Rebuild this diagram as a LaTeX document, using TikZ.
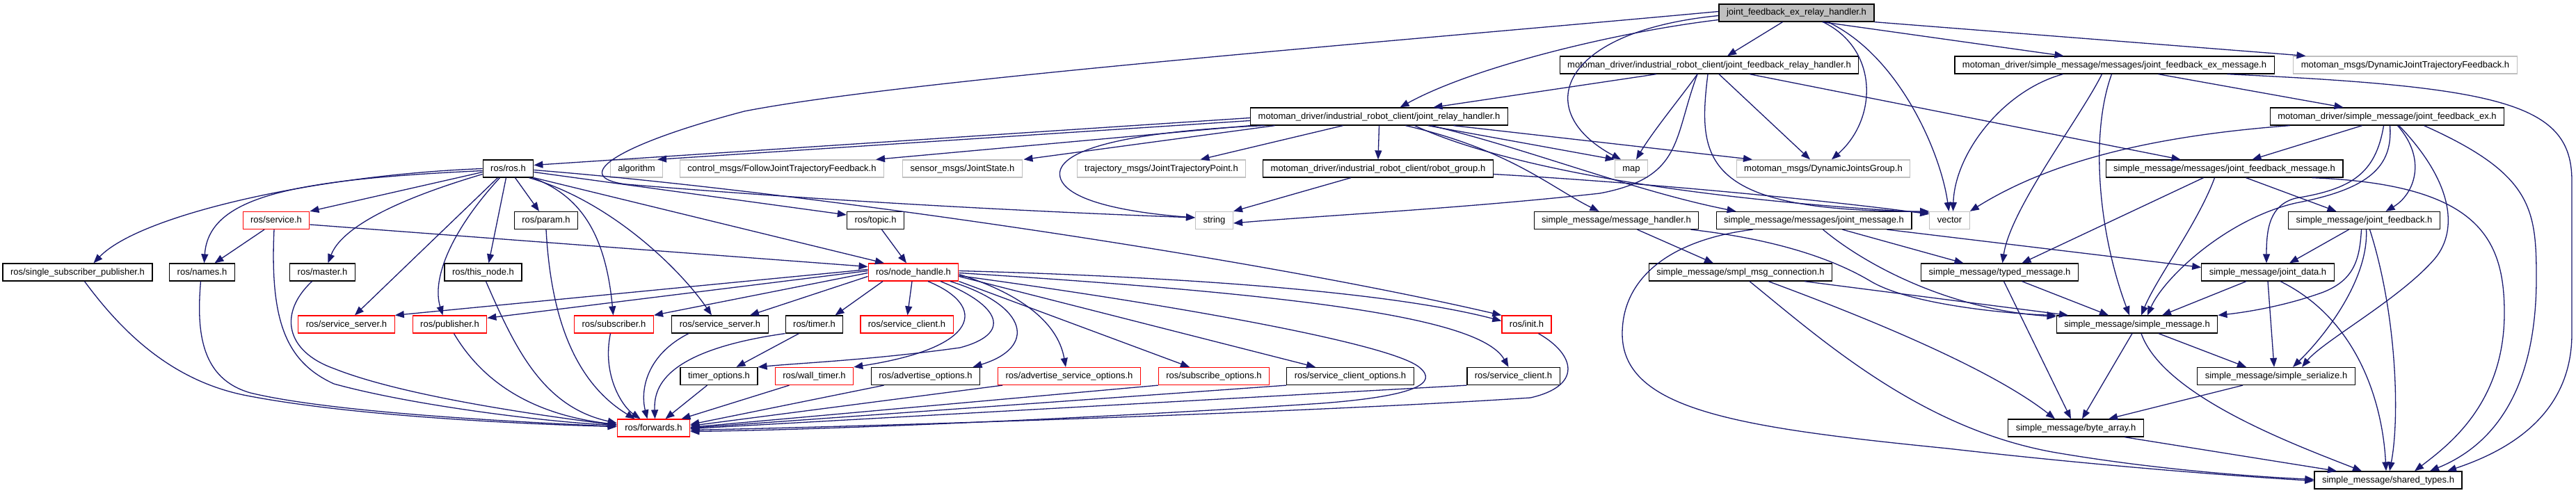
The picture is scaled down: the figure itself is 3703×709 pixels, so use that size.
\documentclass[tikz,border=0pt]{standalone}
\usepackage{fontspec}
\setmainfont{Liberation Sans}
\usetikzlibrary{arrows.meta}
\definecolor{edgec}{HTML}{191970}
\definecolor{grayb}{HTML}{BFBFBF}
\newcommand\dgfont{\fontsize{13}{15}\selectfont}
\begin{document}
\begin{tikzpicture}[x=1pt,y=-1pt,
  nd/.style={draw=black,line width=1.25pt,fill=white,minimum height=25pt,inner xsep=11pt,inner ysep=0pt,text height=10pt,text depth=3pt,font=\dgfont},
  gnd/.style={nd,draw=grayb},
  rnd/.style={nd,draw=red},
  tnd/.style={nd,fill=grayb},
  edg/.style={draw=edgec,line width=1.3pt,-{Triangle[length=13pt,width=10pt]}}]
\useasboundingbox (0,0) rectangle (3703,709);
\fill[white] (0,0) rectangle (3703,709);
% row 1
\node[tnd] (A) at (2582.5,18.5) {joint\_feedback\_ex\_relay\_handler.h};
% row 2
\node[nd] (B) at (2457,93.5) {motoman\_driver/industrial\_robot\_client/joint\_feedback\_relay\_handler.h};
\node[nd] (C) at (3039.5,93.5) {motoman\_driver/simple\_message/messages/joint\_feedback\_ex\_message.h};
\node[gnd] (D) at (3457.5,93.5) {motoman\_msgs/DynamicJointTrajectoryFeedback.h};
% row 3
\node[nd] (E) at (1982.5,167.5) {motoman\_driver/industrial\_robot\_client/joint\_relay\_handler.h};
\node[nd] (F) at (3431.5,167.5) {motoman\_driver/simple\_message/joint\_feedback\_ex.h};
% row 4
\node[nd] (G) at (730.5,242.5) {ros/ros.h};
\node[gnd] (H) at (915,242.5) {algorithm};
\node[gnd] (I) at (1124,242.5) {control\_msgs/FollowJointTrajectoryFeedback.h};
\node[gnd] (J) at (1383.5,242.5) {sensor\_msgs/JointState.h};
\node[gnd] (K) at (1669.5,242.5) {trajectory\_msgs/JointTrajectoryPoint.h};
\node[nd] (L) at (1981,242.5) {motoman\_driver/industrial\_robot\_client/robot\_group.h};
\node[gnd] (M) at (2345,242.5) {map};
\node[gnd] (N) at (2621,242.5) {motoman\_msgs/DynamicJointsGroup.h};
\node[nd] (O) at (3197.5,242.5) {simple\_message/messages/joint\_feedback\_message.h};
% row 5
\node[rnd] (P) at (397,317) {ros/service.h};
\node[nd] (Q) at (785,317) {ros/param.h};
\node[nd] (R) at (1258.5,317) {ros/topic.h};
\node[gnd] (S) at (1745.5,317) {string};
\node[nd] (T) at (2323.5,317) {simple\_message/message\_handler.h};
\node[nd] (U) at (2607.5,317) {simple\_message/messages/joint\_message.h};
\node[gnd] (V) at (2802.5,317) {vector};
\node[nd] (W) at (3398.5,317) {simple\_message/joint\_feedback.h};
% row 6
\node[nd] (X) at (111.5,391.5) {ros/single\_subscriber\_publisher.h};
\node[nd] (Y) at (290.5,391.5) {ros/names.h};
\node[nd] (Z) at (463.5,391.5) {ros/master.h};
\node[nd] (AA) at (694.5,391.5) {ros/this\_node.h};
\node[rnd] (AB) at (1313,391.5) {ros/node\_handle.h};
\node[nd] (AC) at (2502,391.5) {simple\_message/smpl\_msg\_connection.h};
\node[nd] (AD) at (2874.5,391.5) {simple\_message/typed\_message.h};
\node[nd] (AE) at (3260,391.5) {simple\_message/joint\_data.h};
% row 7
\node[rnd] (AF) at (498,466.5) {ros/service\_server.h};
\node[rnd] (AG) at (646.5,466.5) {ros/publisher.h};
\node[rnd] (AH) at (882.5,466.5) {ros/subscriber.h};
\node[nd] (AI) at (1035,466.5) {ros/service\_server.h};
\node[nd] (AJ) at (1170.5,466.5) {ros/timer.h};
\node[rnd] (AK) at (1303.5,466.5) {ros/service\_client.h};
\node[rnd] (AL) at (2194.5,466.5) {ros/init.h};
\node[nd] (AM) at (3072,466.5) {simple\_message/simple\_message.h};
% row 8
\node[nd] (AN) at (1033.5,541) {timer\_options.h};
\node[rnd] (AO) at (1170.5,541) {ros/wall\_timer.h};
\node[nd] (AP) at (1330.5,541) {ros/advertise\_options.h};
\node[rnd] (AQ) at (1537,541) {ros/advertise\_service\_options.h};
\node[rnd] (AR) at (1745,541) {ros/subscribe\_options.h};
\node[nd] (AS) at (1941,541) {ros/service\_client\_options.h};
\node[nd] (AT) at (2175.5,541) {ros/service\_client.h};
\node[nd] (AU) at (3272,541) {simple\_message/simple\_serialize.h};
% row 9
\node[rnd] (AV) at (939.5,615.5) {ros/forwards.h};
\node[nd] (AW) at (2984,615.5) {simple\_message/byte\_array.h};
% row 10
\node[nd] (AX) at (3433,690.5) {simple\_message/shared\_types.h};

% ---- edges from A
\draw[edg] ([xshift=-20pt]A.south) -- ([xshift=26pt]B.north);
\draw[edg] ([xshift=37pt]A.south) -- ([xshift=-73pt]C.north);
\draw[edg] (A.south east) -- ([xshift=-143pt]D.north);
\draw[edg] ([xshift=38pt]A.south) .. controls (2700,70) and (2700,170) .. ([xshift=12pt]N.north);
\draw[edg] ([xshift=45pt]A.south) .. controls (2730,80) and (2790,220) .. ([xshift=-1pt]V.north);
\draw[edg] ([yshift=-4pt]A.west) .. controls (2240,45) and (2200,160) .. ([xshift=-15pt]M.north);
\draw[edg] ([yshift=-10pt]A.west) .. controls (2330,45) and (2120,95) .. ([xshift=30pt]E.north);
\draw[edg] ([yshift=2pt]A.west) .. controls (2000,60) and (1300,115) .. (1070,160) .. controls (880,210) and (820,255) .. (900,265) .. controls (1200,290) and (1500,305) .. ([yshift=4pt]S.west);
% ---- B
\draw[edg] ([xshift=-76pt]B.south) -- ([xshift=78pt]E.north);
\draw[edg] ([xshift=-17pt]B.south) .. controls (2420,135) and (2375,190) .. ([xshift=7pt]M.north);
\draw[edg] ([xshift=-17pt]B.south) .. controls (2405,200) and (2420,255) .. (2300,278) .. controls (2100,300) and (1900,310) .. ([yshift=-4pt]S.east);
\draw[edg] ([xshift=14pt]B.south) -- ([xshift=-19pt]N.north);
\draw[edg] ([xshift=-2pt]B.south) .. controls (2440,230) and (2445,305) .. (V.north west);
\draw[edg] ([xshift=58pt]B.south) -- ([xshift=-63pt]O.north);
% ---- C
\draw[edg] ([xshift=-74pt]C.south) .. controls (2880,130) and (2810,220) .. ([xshift=5pt]V.north);
\draw[edg] ([xshift=-18pt]C.south) .. controls (2990,170) and (2890,300) .. ([xshift=4pt]AD.north);
\draw[edg] ([xshift=-4pt]C.south) .. controls (3005,190) and (3015,330) .. ([xshift=-11pt]AM.north);
\draw[edg] ([xshift=63pt]C.south) -- ([xshift=-63pt]F.north);
\draw[edg] ([xshift=162pt]C.south) .. controls (3600,125) and (3697,150) .. (3697,260) -- (3697,480) .. controls (3697,600) and (3600,650) .. ([xshift=85pt]AX.north);
% ---- E
\draw[edg] ([yshift=-2pt]E.west) -- ([yshift=5pt]G.east);
\draw[edg] ([yshift=-6pt]E.west) -- ([xshift=30pt]H.north);
\draw[edg] (E.south west) -- ([xshift=135pt]I.north);
\draw[edg] ([xshift=-150pt]E.south) -- ([xshift=88pt]J.north);
\draw[edg] ([xshift=-52pt]E.south) -- ([xshift=56pt]K.north);
\draw[edg] ([xshift=-165pt]E.south) .. controls (1600,190) and (1510,220) .. (1525,258) .. controls (1540,295) and (1650,308) .. ([yshift=4pt]S.west);
\draw[edg] (E.south) -- (L.north);
\draw[edg] ([xshift=70pt]E.south) -- (M.north west);
\draw[edg] ([xshift=107pt]E.south) -- ([xshift=-102pt]N.north);
\draw[edg] ([xshift=51pt]E.south) .. controls (2150,235) and (2400,285) .. ([yshift=-2pt]V.north west);
\draw[edg] ([xshift=75pt]E.south) .. controls (2200,215) and (2350,275) .. ([xshift=-112pt]U.north);
\draw[edg] ([xshift=38pt]E.south) .. controls (2170,215) and (2230,270) .. ([xshift=-25pt]T.north);
% ---- L
\draw[edg] ([xshift=-39pt]L.south) -- (S.north east);
\draw[edg] ([yshift=-8pt]L.east) .. controls (2350,262) and (2600,285) .. ([yshift=-4pt]V.north west);
% ---- G ros.h
\draw[edg] ([yshift=-5pt]G.west) -- (P.north east);
\draw[edg] (G.west) .. controls (450,252) and (200,310) .. ([xshift=23pt]X.north);
\draw[edg] ([yshift=-3pt]G.west) .. controls (430,258) and (300,280) .. ([xshift=3pt]Y.north);
\draw[edg] ([yshift=-8pt]G.west) .. controls (560,290) and (490,330) .. ([xshift=8pt]Z.north);
\draw[edg] ([xshift=-15pt]G.south) -- ([xshift=12pt]AF.north);
\draw[edg] ([xshift=-12pt]G.south) .. controls (650,330) and (620,400) .. ([xshift=-10pt]AG.north);
\draw[edg] ([xshift=-3pt]G.south) -- ([xshift=8pt]AA.north);
\draw[edg] ([xshift=10pt]G.south) -- ([xshift=-10pt]Q.north);
\draw[edg] ([xshift=35pt]G.south) .. controls (830,280) and (870,330) .. ([xshift=-1pt]AH.north);
\draw[edg] ([xshift=30pt]G.south) .. controls (880,290) and (980,390) .. ([xshift=-12pt]AI.north);
\draw[edg] (G.south east) -- ([xshift=-42pt]AB.north);
\draw[edg] ([yshift=-5pt]G.east) -- ([yshift=8pt]R.west);
\draw[edg] ([yshift=-2pt]G.east) .. controls (1150,275) and (1800,370) .. (AL.north west);
% ---- P, Q, R
\draw[edg] ([xshift=-17pt]P.south) -- ([xshift=18pt]Y.north);
\draw[edg] ([yshift=-6pt]P.east) -- ([yshift=8pt]AB.west);
\draw[edg] ([xshift=-3pt]P.south) .. controls (388,460) and (410,520) .. (480,552) .. controls (600,585) and (800,608) .. ([yshift=4pt]AV.west);
\draw[edg] (Q.south) .. controls (790,420) and (810,540) .. ([xshift=-27pt]AV.north);
\draw[edg] ([xshift=9pt]R.south) -- ([xshift=-10pt]AB.north);
% ---- into forwards
\draw[edg] ([xshift=10pt]X.south) .. controls (170,470) and (240,545) .. (350,568) .. controls (500,598) and (750,610) .. ([yshift=2pt]AV.west);
\draw[edg] ([xshift=-2pt]Y.south) .. controls (282,480) and (290,545) .. (360,565) .. controls (480,594) and (750,607) .. ([yshift=2pt]AV.west);
\draw[edg] ([xshift=-15pt]Z.south) .. controls (400,450) and (410,505) .. (480,530) .. controls (580,570) and (780,598) .. ([yshift=4pt]AV.west);
\draw[edg] ([xshift=4pt]AA.south) .. controls (740,500) and (780,585) .. ([yshift=7pt]AV.west);
\draw[edg] ([xshift=6pt]AG.south) .. controls (700,560) and (780,598) .. ([yshift=5pt]AV.west);
\draw[edg] ([xshift=-5pt]AH.south) .. controls (865,540) and (895,585) .. ([xshift=-19pt]AV.north);
\draw[edg] ([xshift=-45pt]AI.south) .. controls (930,510) and (920,560) .. ([xshift=-9pt]AV.north);
\draw[edg] ([xshift=-22pt]AJ.south) -- ([xshift=25pt]AN.north);
\draw[edg] ([xshift=-42pt]AJ.south) .. controls (950,505) and (940,560) .. ([xshift=2pt]AV.north);
\draw[edg] ([xshift=-17pt]AN.south) -- ([xshift=17pt]AV.north);
\draw[edg] ([xshift=-36pt]AO.south) -- ([xshift=40pt]AV.north);
\draw[edg] ([xshift=-60pt]AP.south) -- ([yshift=5pt]AV.east);
\draw[edg] ([xshift=-96pt]AQ.south) -- ([yshift=3pt]AV.east);
\draw[edg] (AR.south west) -- ([yshift=1pt]AV.east);
\draw[edg] (AS.south west) -- (AV.east);
\draw[edg] (AT.south west) -- ([yshift=-1pt]AV.east);
\draw[edg] ([xshift=17pt]AL.south) .. controls (2265,510) and (2275,555) .. (2200,572) .. controls (1900,592) and (1300,612) .. ([yshift=-3pt]AV.east);
\draw[edg] ([yshift=-5pt]AB.east) .. controls (1700,440) and (2000,495) .. (2040,528) .. controls (2070,552) and (2030,570) .. (1900,580) .. controls (1600,600) and (1200,618) .. ([yshift=-5pt]AV.east);
% ---- node_handle
\draw[edg] ([yshift=4pt]AB.west) -- (AF.north east);
\draw[edg] ([yshift=2pt]AB.west) -- ([yshift=-4pt]AG.north east);
\draw[edg] ([yshift=-1pt]AB.west) -- (AH.north east);
\draw[edg] ([yshift=-6pt]AB.west) -- ([xshift=43pt]AI.north);
\draw[edg] ([xshift=-44pt]AB.south) -- ([xshift=30pt]AJ.north);
\draw[edg] ([xshift=-2pt]AB.south) -- ([xshift=1pt]AK.north);
\draw[edg] ([xshift=21pt]AB.south) .. controls (1420,440) and (1410,500) .. (AO.north east);
\draw[edg] ([xshift=39pt]AB.south) .. controls (1440,440) and (1455,480) .. (1380,500) .. controls (1250,518) and (1150,522) .. (AN.north east);
\draw[edg] ([xshift=53pt]AB.south) .. controls (1480,440) and (1490,500) .. ([xshift=68pt]AP.north);
\draw[edg] ([yshift=-3pt]AB.east) .. controls (1460,420) and (1520,460) .. ([xshift=-5pt]AQ.north);
\draw[edg] (AB.south east) -- ([xshift=-35pt]AR.north);
\draw[edg] ([yshift=-6pt]AB.east) -- ([xshift=-50pt]AS.north);
\draw[edg] ([yshift=-1pt]AB.east) .. controls (1900,425) and (2130,460) .. ([xshift=-7pt]AT.north);
\draw[edg] ([yshift=2pt]AB.east) .. controls (1700,398) and (2000,420) .. ([yshift=5pt]AL.west);
% ---- T, U
\draw[edg] ([xshift=30pt]T.south) -- ([xshift=-39pt]AC.north);
\draw[edg] ([xshift=107pt]T.south) .. controls (2560,345) and (2640,375) .. (2690,405) .. controls (2750,440) and (2900,452) .. (AM.north west);
\draw[edg] ([xshift=41pt]U.south) -- ([xshift=-52pt]AD.north);
\draw[edg] ([xshift=13pt]U.south) .. controls (2680,380) and (2800,445) .. ([yshift=-2pt]AM.north west);
\draw[edg] ([xshift=105pt]U.south) -- ([yshift=7pt]AE.west);
\draw[edg] ([xshift=-88pt]U.south) .. controls (2400,345) and (2332,400) .. (2332,480) .. controls (2332,590) and (2500,615) .. (2800,645) .. controls (3000,668) and (3200,684) .. ([yshift=-1pt]AX.west);
% ---- AC
\draw[edg] ([xshift=92pt]AC.south) -- ([xshift=-99pt]AM.north);
\draw[edg] ([xshift=40pt]AC.south) .. controls (2800,500) and (2900,560) .. ([xshift=-30pt]AW.north);
\draw[edg] ([xshift=13pt]AC.south) .. controls (2620,490) and (2760,615) .. (2950,650) .. controls (3100,676) and (3250,686) .. ([yshift=1pt]AX.west);
% ---- AD, AE
\draw[edg] ([xshift=6pt]AD.south) -- ([xshift=-7pt]AW.north);
\draw[edg] ([xshift=32pt]AD.south) -- ([xshift=-41pt]AM.north);
\draw[edg] ([xshift=-31pt]AE.south) -- ([xshift=36pt]AM.north);
\draw[edg] (AE.south) -- ([xshift=-3pt]AU.north);
\draw[edg] ([xshift=18pt]AE.south) .. controls (3390,460) and (3425,580) .. ([xshift=-3pt]AX.north);
% ---- AM, AU, AW
\draw[edg] ([xshift=31pt]AM.south) -- ([xshift=-43pt]AU.north);
\draw[edg] ([xshift=-7pt]AM.south) -- ([xshift=9pt]AW.north);
\draw[edg] ([xshift=6pt]AM.south) .. controls (3110,570) and (3300,640) .. ([xshift=-38pt]AX.north);
\draw[edg] ([xshift=-48pt]AU.south) -- ([xshift=47pt]AW.north);
\draw[edg] ([xshift=70pt]AW.south) -- ([xshift=-74pt]AX.north);
% ---- O
\draw[edg] ([xshift=-30pt]O.south) -- ([xshift=32pt]AD.north);
\draw[edg] ([xshift=-14pt]O.south) .. controls (3160,320) and (3100,400) .. ([xshift=6pt]AM.north);
\draw[edg] ([xshift=31pt]O.south) -- ([xshift=-40pt]W.north);
\draw[edg] ([xshift=126pt]O.south) .. controls (3560,265) and (3600,340) .. (3600,450) .. controls (3600,580) and (3520,640) .. ([xshift=38pt]AX.north);
% ---- F
\draw[edg] ([xshift=-140pt]F.south) .. controls (3100,195) and (2950,230) .. (V.north east);
\draw[edg] ([xshift=-36pt]F.south) -- ([xshift=40pt]O.north);
\draw[edg] ([xshift=-5pt]F.south) .. controls (3415,250) and (3380,272) .. (3300,285) .. controls (3262,295) and (3258,330) .. ([xshift=-2pt]AE.north);
\draw[edg] ([xshift=4pt]F.south) .. controls (3440,240) and (3405,272) .. (3300,292) .. controls (3200,315) and (3110,400) .. ([xshift=15pt]AM.north);
\draw[edg] ([xshift=15pt]F.south) .. controls (3490,230) and (3470,280) .. ([xshift=31pt]W.north);
\draw[edg] ([xshift=17pt]F.south) .. controls (3525,260) and (3535,330) .. (3500,372) .. controls (3450,430) and (3340,490) .. ([xshift=37pt]AU.north);
\draw[edg] ([xshift=53pt]F.south) .. controls (3640,250) and (3646,300) .. (3646,400) .. controls (3646,590) and (3560,650) .. ([xshift=60pt]AX.north);
% ---- W
\draw[edg] ([xshift=-22pt]W.south) -- ([xshift=31pt]AE.north);
\draw[edg] ([xshift=-4pt]W.south) .. controls (3392,372) and (3385,402) .. (3340,420) .. controls (3280,442) and (3220,450) .. (AM.north east);
\draw[edg] ([xshift=3pt]W.south) .. controls (3405,400) and (3345,480) .. ([xshift=24pt]AU.north);
\draw[edg] ([xshift=8pt]W.south) .. controls (3445,450) and (3450,600) .. ([xshift=2pt]AX.north);
\end{tikzpicture}
\end{document}
